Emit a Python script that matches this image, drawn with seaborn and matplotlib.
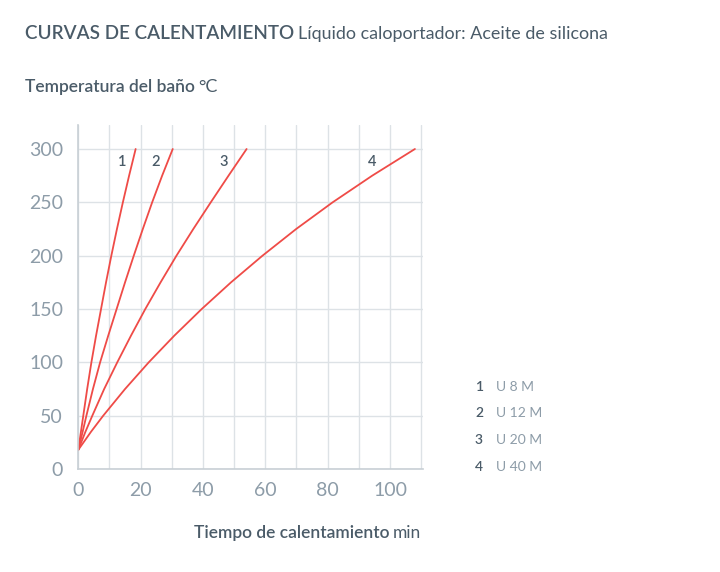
import matplotlib

matplotlib.use("Agg")

import matplotlib.pyplot as plt
import pandas as pd
import seaborn as sns
from matplotlib.ticker import MultipleLocator
from matplotlib.transforms import IdentityTransform

# bath temperature (°C) and the time (min) each unit needs to reach it,
# read off the reference curves
TEMPS = [18, 35, 50, 75, 100, 125, 150, 175, 200, 225, 250, 275, 300]
TIME_U8 = [0, 0.85, 1.6, 2.85, 4.2, 5.7, 7.3, 8.9, 10.6, 12.4, 14.3, 16.3, 18.4]
TIME_U12 = [0, 1.4, 2.6, 4.7, 7.0, 9.6, 12.3, 15.0, 17.8, 20.7, 23.7, 26.9, 30.3]
TIME_U20 = [0, 2.3, 4.5, 8.3, 12.5, 16.9, 21.5, 26.4, 31.5, 36.9, 42.5, 48.2, 54.0]
TIME_U40 = [0, 4.1, 8.0, 15.0, 22.6, 30.8, 39.6, 49.0, 59.1, 69.9, 81.6, 94.3, 108.0]

CURVE_IDS = ["1", "2", "3", "4"]
MODELS = ["U 8 M", "U 12 M", "U 20 M", "U 40 M"]
LABEL_X = [14.2, 24.9, 46.7, 94.4]
LABEL_Y = 287.5

X_TICKS = [0, 20, 40, 60, 80, 100]
Y_TICKS = [0, 50, 100, 150, 200, 250, 300]

TITLE = "CURVAS DE CALENTAMIENTO"
SUBTITLE = "Líquido caloportador: Aceite de silicona"
YLABEL = "Temperatura del baño"
YUNIT = "°C"
XLABEL = "Tiempo de calentamiento"
XUNIT = "min"

DARK = "#4a5b68"
LIGHT = "#8d9ca8"
RED = "#ef4b47"
GRID = "#dde2e6"
SPINE = "#c8cfd5"

W, H = 720, 572

sns.set_theme(style="white")
plt.rcParams["font.family"] = ["Lato", "DejaVu Sans"]

frames = []
for cid, times in zip(CURVE_IDS, [TIME_U8, TIME_U12, TIME_U20, TIME_U40]):
    frames.append(pd.DataFrame({"curve": cid, "time": times, "temp": TEMPS}))
df = pd.concat(frames, ignore_index=True)

fig = plt.figure(figsize=(W / 100, H / 100), dpi=100)
ax = fig.add_axes([78.3 / W, 1 - 469 / H, 344.4 / W, 344 / H])

sns.lineplot(data=df, x="time", y="temp", hue="curve", palette=[RED] * 4,
             estimator=None, sort=False, lw=1.3, legend=False, ax=ax)

ax.set_xlim(0, 110.5)
ax.set_ylim(0, 322.5)
ax.set_xticks(X_TICKS)
ax.set_yticks(Y_TICKS)
ax.xaxis.set_minor_locator(MultipleLocator(10))
ax.grid(True, which="both", axis="x", color=GRID, lw=1)
ax.grid(True, which="major", axis="y", color=GRID, lw=1)
ax.set_axisbelow(True)
ax.set_xlabel("")
ax.set_ylabel("")
ax.tick_params(axis="both", which="both", length=0, labelsize=14, colors=LIGHT)
ax.tick_params(axis="y", pad=11)
ax.tick_params(axis="x", pad=9)
for side in ["top", "right"]:
    ax.spines[side].set_visible(False)
for side in ["left", "bottom"]:
    ax.spines[side].set_color(SPINE)
    ax.spines[side].set_linewidth(1.2)

for cid, lx in zip(CURVE_IDS, LABEL_X):
    ax.text(lx, LABEL_Y, cid, ha="center", va="center", fontsize=10.5,
            color=DARK, fontweight="semibold")


def text_runs(x_px, y_top, runs, align="left"):
    """Place text pieces of different weight one after another on a baseline."""
    renderer = fig.canvas.get_renderer()
    pieces = []
    for s, weight, size in runs:
        t = fig.text(0, 0, s, fontsize=size, fontweight=weight, color=DARK,
                     ha="left", va="baseline", transform=IdentityTransform())
        pieces.append((t, t.get_window_extent(renderer).width, size * 0.3))
    total = sum(w + g for _, w, g in pieces) - pieces[-1][2]
    x = x_px if align == "left" else x_px - total
    for t, w, g in pieces:
        t.set_position((x, H - y_top))
        x += w + g


text_runs(25, 39, [(TITLE, "semibold", 13.6), (SUBTITLE, "normal", 12.9)])
text_runs(25, 92, [(YLABEL, "semibold", 12.5), (YUNIT, "normal", 13)])
text_runs(421, 538, [(XLABEL, "semibold", 12.5), (XUNIT, "normal", 12.5)],
          align="right")

# side legend: curve number and unit model
for i, (cid, model) in enumerate(zip(CURVE_IDS, MODELS)):
    base = H - (390.7 + i * 26.67)
    fig.text(479, base, cid, fontsize=10, color=DARK, fontweight="semibold",
             ha="center", va="baseline", transform=IdentityTransform())
    fig.text(496, base, model, fontsize=10, color=LIGHT, fontweight="normal",
             ha="left", va="baseline", transform=IdentityTransform())

fig.savefig("out.png", dpi=100)
